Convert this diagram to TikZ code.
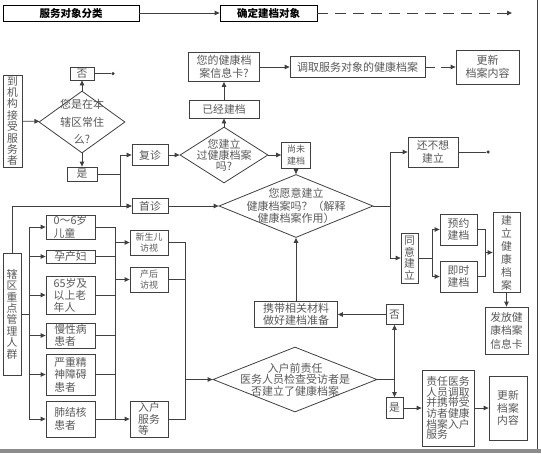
\documentclass[tikz,border=0pt]{standalone}
\usepackage{fontspec}
\setmainfont{Noto Sans CJK SC}
\usetikzlibrary{arrows.meta,shapes.geometric}
\definecolor{linegray}{rgb}{0.25, 0.25, 0.25}
\definecolor{textgray}{rgb}{0.35, 0.35, 0.35}
\definecolor{bargray}{rgb}{0.55, 0.55, 0.55}
\tikzset{
  box/.style={
    draw=linegray,
    line width=0.8pt,
    fill=white,
    align=center,
    inner sep=0pt,
    text=textgray,
    font=\fontsize{10.8}{12.5}\selectfont
  },
  smallbox/.style={
    box,
    font=\fontsize{9}{11.5}\selectfont
  },
  leftbox/.style={
    box,
    align=left
  },
  vbox/.style={
    box,
    font=\fontsize{10.8}{11.4}\selectfont
  },
  header/.style={
    box,
    draw=black,
    text=black,
    font=\fontsize{10.5}{12}\selectfont\bfseries
  },
  decision/.style={
    diamond,
    draw=linegray,
    line width=0.8pt,
    inner sep=0pt
  },
  dtext/.style={
    text=textgray,
    align=center,
    font=\fontsize{11}{12}\selectfont
  },
  arrow/.style={
    -{Triangle[length=5pt,width=4.5pt]},
    line width=0.8pt,
    linegray
  },
  conn/.style={
    line width=0.8pt,
    linegray
  },
  enddot/.style={
    circle,
    fill=linegray,
    inner sep=0pt,
    minimum size=3.5pt
  }
}

\begin{document}
\begin{tikzpicture}[x=1pt,y=-1pt]
\useasboundingbox (0,0) rectangle (541,453);
% frame
\fill[bargray] (0,448.5) rectangle (541,453);
\draw[line width=1pt, linegray] (537.5,0) -- (537.5,449);

% header
\node[header, minimum width=136, minimum height=16] (hdrA) at (71,13) {服务对象分类};
\node[header, minimum width=97, minimum height=16] (hdrB) at (268.5,13) {确定建档对象};
\coordinate (hdrEnd) at (512,13);

% visitors at the institution
\node[vbox, minimum width=19, minimum height=92] (visit) at (12.5,121) {到\\机\\构\\接\\受\\服\\务\\者};
\node[decision, minimum width=86, minimum height=62,
  label={[dtext, font=\fontsize{11}{17.5}\selectfont]center:{您是在本\\辖区常住\\么?}}] (q1) at (82,122) {};
\node[box, minimum width=24, minimum height=13] (no1) at (82,73.5) {否};
\node[enddot] (stop1) at (113,73.5) {};
\node[box, minimum width=30, minimum height=14] (yes1) at (82,174) {是};
\coordinate (j1) at (120,174);
\node[box, minimum width=36, minimum height=21] (revisit) at (150,155) {复诊};
\node[box, minimum width=36, minimum height=15] (first) at (150,206) {首诊};

% record already there?
\node[decision, minimum width=88, minimum height=56,
  label={[dtext, font=\fontsize{11}{10.8}\selectfont]center:{您建立\\过健康档案\\吗?}}] (q2) at (224,155) {};
\node[box, minimum width=70, minimum height=18] (built) at (224,109) {已经建档};
\node[box, minimum width=71, minimum height=29, font=\fontsize{11}{12.5}\selectfont] (card) at (224,67) {您的健康档\\案信息卡?};
\node[box, minimum width=135, minimum height=21, font=\fontsize{11}{12.5}\selectfont] (fetch) at (357.5,67) {调取服务对象的健康档案};
\node[box, minimum width=63, minimum height=34, font=\fontsize{11}{13}\selectfont] (update1) at (487.5,67) {更新\\档案内容};
\node[smallbox, minimum width=29, minimum height=26] (notyet) at (296,155) {尚未\\建档};

% willing to build?
\node[decision, minimum width=154, minimum height=63,
  label={[dtext, font=\fontsize{11}{12.5}\selectfont]center:{您愿意建立\\健康档案吗？（解释\\健康档案作用）}}] (q3) at (296,206) {};
\node[box, minimum width=83, minimum height=26, font=\fontsize{11}{12.5}\selectfont] (prep) at (296,314.5) {携带相关材料\\做好建档准备};
\coordinate (j3) at (390,206);
\node[box, minimum width=50, minimum height=30] (refuse) at (433,152) {还不想\\建立};
\node[enddot] (stop2) at (488,152) {};
\node[vbox, minimum width=17, minimum height=50] (agree) at (409.5,258) {同\\意\\建\\立};
\coordinate (j4) at (432,258);
\node[box, minimum width=37, minimum height=31] (appt) at (458.5,229.5) {预约\\建档};
\node[box, minimum width=37, minimum height=31] (now) at (458.5,276.5) {即时\\建档};
\coordinate (j5) at (485,252.5);
\node[box, minimum width=27, minimum height=80, font=\fontsize{10.8}{13}\selectfont] (create) at (506.5,252.5) {建\\立\\健\\康\\档\\案};
\node[box, minimum width=43, minimum height=47, font=\fontsize{10.8}{13.5}\selectfont] (issue) at (506.5,330.5) {发放健\\康档案\\信息卡};

% key groups
\node[vbox, minimum width=18, minimum height=122] (key) at (12,314) {辖\\区\\重\\点\\管\\理\\人\\群};
\coordinate (j8) at (29,314);
\node[leftbox, minimum width=49, minimum height=24] (c1) at (70.5,227) {0～6岁\\儿童};
\node[leftbox, minimum width=49, minimum height=13] (c2) at (70.5,256.5) {孕产妇};
\node[leftbox, minimum width=49, minimum height=38, font=\fontsize{10.8}{12}\selectfont] (c3) at (70.5,295) {65岁及\\以上老\\年人};
\node[leftbox, minimum width=49, minimum height=25] (c4) at (70.5,335.5) {慢性病\\患者};
\node[leftbox, minimum width=49, minimum height=41] (c5) at (70.5,374.5) {严重精\\神障碍\\患者};
\node[leftbox, minimum width=49, minimum height=36] (c6) at (70.5,419) {肺结核\\患者};
\coordinate (j9) at (115,227);
\node[smallbox, minimum width=38, minimum height=25] (s1) at (149,242.5) {新生儿\\访视};
\node[smallbox, minimum width=38, minimum height=25] (s2) at (149,279.5) {产后\\访视};
\node[leftbox, minimum width=38, minimum height=36, font=\fontsize{10.8}{11.5}\selectfont] (s3) at (149,419) {入户\\服务\\等};
\coordinate (j6) at (185,379.5);

% home visit check
\node[decision, minimum width=164, minimum height=65,
  label={[dtext, font=\fontsize{11}{11.5}\selectfont]center:{入户前责任\\医务人员检查受访者是\\否建立了健康档案}}] (q4) at (295,379.5) {};
\coordinate (j7) at (394.5,379.5);
\node[box, minimum width=17, minimum height=20] (no2) at (394.5,314.5) {否};
\node[box, minimum width=17, minimum height=21] (yes2) at (394.5,408) {是};
\node[leftbox, minimum width=52, minimum height=76, font=\fontsize{10.8}{10.6}\selectfont] (carry) at (448,408) {责任医务\\人员调取\\并携带受\\访者健康\\档案入户\\服务};
\node[leftbox, minimum width=38, minimum height=64, font=\fontsize{10.8}{12.5}\selectfont] (update2) at (508,408) {更新\\档案\\内容};

% connectors
\draw[arrow] (hdrA) -- (hdrB);
\draw[arrow, dash pattern=on 11pt off 7pt] (hdrB) -- (hdrEnd);
\draw[arrow] (visit) -- (q1);
\draw[arrow] (q1.north) -- (no1);
\draw[conn] (no1) -- (stop1);
\draw[arrow] (q1.south) -- (yes1);
\draw[conn] (yes1) -- (j1);
\draw[arrow] (j1) |- (revisit);
\draw[arrow] (j1) |- (first);
\draw[arrow] (key) |- (first);
\draw[arrow] (revisit) -- (q2);
\draw[arrow] (q2.north) -- (built);
\draw[arrow] (built) -- (card);
\draw[arrow] (card) -- (fetch);
\draw[arrow, dash pattern=on 10pt off 6pt] (fetch) -- (update1);
\draw[arrow] (q2.east) -- (notyet);
\draw[arrow] (notyet) -- (q3.north);
\draw[arrow] (first) -- (q3.west);
\draw[arrow] (prep) -- (q3.south);
\draw[conn] (q3.east) -- (j3);
\draw[arrow] (j3) |- (refuse);
\draw[arrow] (j3) |- (agree);
\draw[conn] (refuse) -- (stop2);
\draw[conn] (agree) -- (j4);
\draw[arrow] (j4) |- (appt);
\draw[arrow] (j4) |- (now);
\draw[conn] (appt) -| (j5);
\draw[conn] (now) -| (j5);
\draw[arrow] (j5) -- (create);
\draw[arrow] (create) -- (issue);

\draw[conn] (key) -- (j8);
\draw[conn] (j8 |- c1.west) -- (j8 |- c6.west);
\draw[arrow] (j8 |- c1.west) -- (c1);
\draw[arrow] (j8 |- c2.west) -- (c2);
\draw[arrow] (j8 |- c3.west) -- (c3);
\draw[arrow] (j8 |- c4.west) -- (c4);
\draw[arrow] (j8 |- c5.west) -- (c5);
\draw[arrow] (j8 |- c6.west) -- (c6);
\draw[conn] (c1) -| (j9);
\draw[conn] (c2) -- (c2.east -| j9);
\draw[conn] (c3) -- (c3.east -| j9);
\draw[conn] (c4) -- (c4.east -| j9);
\draw[conn] (c5) -- (c5.east -| j9);
\draw[conn] (c6) -- (c6.east -| j9);
\draw[conn] (j9) -- (j9 |- s3.west);
\draw[arrow] (j9 |- s1.west) -- (s1);
\draw[arrow] (j9 |- s2.west) -- (s2);
\draw[arrow] (j9 |- s3.west) -- (s3);
\draw[conn] (s1) -| (j6);
\draw[conn] (s2) -| (j6);
\draw[conn] (s3) -| (j6);
\draw[arrow] (j6) -- (q4.west);
\draw[conn] (q4.east) -- (j7);
\draw[arrow] (j7) -- (no2);
\draw[arrow] (j7) -- (yes2);
\draw[arrow] (no2) -- (prep);
\draw[arrow] (yes2) -- (carry);
\draw[arrow] (carry) -- (update2);
\end{tikzpicture}
\end{document}
